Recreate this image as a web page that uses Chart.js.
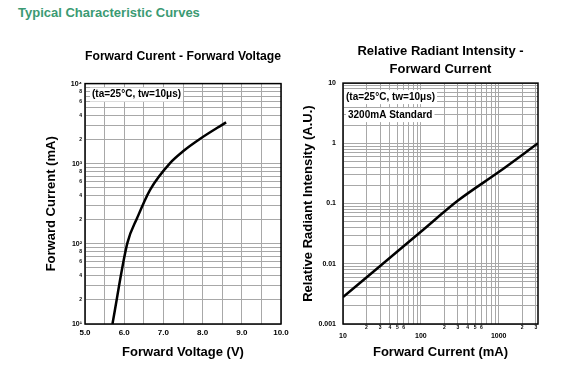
<!DOCTYPE html>
<html>
<head>
<meta charset="utf-8">
<script src="https://cdn.jsdelivr.net/npm/chart.js@4.4.0/dist/chart.umd.min.js"></script>
<style>
body { margin: 0; background: #fff; width: 581px; height: 387px; position: relative; overflow: hidden; font-family: "Liberation Sans", Arial, sans-serif; }
h3 { position: absolute; left: 18px; top: 5px; margin: 0; font-size: 13px; font-weight: bold; color: #3b9a73; }
#vfChart { position: absolute; left: 0; top: 0; }
#irChart { position: absolute; left: 290px; top: 0; }
</style>
</head>
<body>
<h3>Typical Characteristic Curves</h3>
<canvas id="vfChart" width="300" height="387"></canvas>
<canvas id="irChart" width="291" height="387"></canvas>
<script>
// Forward Current - Forward Voltage
const vfVoltage = [5.70, 6.08, 6.33, 6.66, 7.17, 7.51, 7.93, 8.60];
const vfCurrent = [10, 102, 210, 473, 1020, 1442, 2036, 3285];
const vfXTicks = [5.0, 5.5, 6.0, 6.5, 7.0, 7.5, 8.0, 8.5, 9.0, 9.5, 10.0];
const vfYTicks = [10, 20, 30, 40, 50, 60, 70, 80, 90,
                  100, 200, 300, 400, 500, 600, 700, 800, 900,
                  1000, 2000, 3000, 4000, 5000, 6000, 7000, 8000, 9000, 10000];

// Relative Radiant Intensity - Forward Current
const irCurrent = [10, 30, 100, 300, 1000, 3200];
const irIntensity = [0.0028, 0.0092, 0.034, 0.112, 0.333, 1.0];
const irXTicks = [10, 20, 30, 40, 50, 60, 70, 80, 90,
                  100, 200, 300, 400, 500, 600, 700, 800, 900,
                  1000, 2000, 3000];
const irYTicks = [0.001, 0.002, 0.003, 0.004, 0.005, 0.006, 0.007, 0.008, 0.009,
                  0.01, 0.02, 0.03, 0.04, 0.05, 0.06, 0.07, 0.08, 0.09,
                  0.1, 0.2, 0.3, 0.4, 0.5, 0.6, 0.7, 0.8, 0.9,
                  1, 2, 3, 4, 5, 6, 7, 8, 9, 10];

const FONT = '"Liberation Sans", Arial, sans-serif';
const GRID = '#a8a8a8';
const sup = { 1: '\u00b9', 2: '\u00b2', 3: '\u00b3', 4: '\u2074' };

function isDecade(v) {
    const l = Math.log10(v);
    return Math.abs(l - Math.round(l)) < 1e-6;
}
function mantissa(v) {
    return Math.round(v / Math.pow(10, Math.floor(Math.log10(v) + 1e-9)));
}

// black frame round the plot area
const framePlugin = {
    id: 'frame',
    afterDraw(chart) {
        const a = chart.chartArea, ctx = chart.ctx;
        ctx.save();
        ctx.strokeStyle = '#000';
        ctx.lineWidth = 1.5;
        ctx.strokeRect(a.left, a.top, a.right - a.left, a.bottom - a.top);
        ctx.restore();
    }
};

// condition notes in the top-left corner
const notesPlugin = {
    id: 'notes',
    afterDraw(chart, args, opts) {
        const a = chart.chartArea, ctx = chart.ctx;
        ctx.save();
        ctx.font = 'bold 10px ' + FONT;
        ctx.textBaseline = 'middle';
        (opts.items || []).forEach(function(n) {
            const x = a.left + n.dx, y = a.top + n.dy;
            const w = ctx.measureText(n.text).width;
            ctx.fillStyle = '#fff';
            ctx.fillRect(x - 2, y - 7, w + 4, 14);
            ctx.fillStyle = '#000';
            ctx.fillText(n.text, x, y);
        });
        ctx.restore();
    }
};

const vfCanvas = document.getElementById('vfChart');
new Chart(vfCanvas.getContext('2d'), {
    type: 'scatter',
    data: {
        datasets: [{
            data: vfVoltage.map((v, i) => ({ x: v, y: vfCurrent[i] })),
            showLine: true,
            borderColor: '#000',
            borderWidth: 2.5,
            pointRadius: 0,
            cubicInterpolationMode: 'monotone'
        }]
    },
    options: {
        responsive: false,
        animation: false,
        layout: { padding: { left: 40, right: 19, top: 0, bottom: 23 } },
        scales: {
            x: {
                type: 'linear',
                min: 5, max: 10,
                afterBuildTicks: s => { s.ticks = vfXTicks.map(v => ({ value: v })); },
                afterFit: s => { s.height = 40; },
                grid: { color: GRID, drawTicks: false },
                border: { display: false },
                ticks: {
                    autoSkip: false, maxRotation: 0, padding: 4, color: '#000',
                    font: { family: FONT, size: 8, weight: 'bold' },
                    callback: v => Number.isInteger(v) ? v.toFixed(1) : ''
                },
                title: { display: true, text: 'Forward Voltage (V)', color: '#000', font: { family: FONT, size: 13, weight: 'bold' } }
            },
            y: {
                type: 'logarithmic',
                min: 10, max: 10000,
                afterBuildTicks: s => { s.ticks = vfYTicks.map(v => ({ value: v })); },
                afterFit: s => { s.width = 45; },
                grid: { color: GRID, drawTicks: false },
                border: { display: false },
                ticks: {
                    autoSkip: false, padding: 3, color: '#000',
                    font: c => ({ family: FONT, size: isDecade(c.tick.value) ? 7 : 5, weight: 'bold' }),
                    callback: v => {
                        if (isDecade(v)) return '10' + sup[Math.round(Math.log10(v))];
                        return mantissa(v) % 2 === 0 ? String(mantissa(v)) : '';
                    }
                },
                title: { display: true, text: 'Forward Current (mA)', color: '#000', font: { family: FONT, size: 13, weight: 'bold' } }
            }
        },
        plugins: {
            legend: { display: false },
            tooltip: { enabled: false },
            title: {
                display: true, fullSize: false,
                text: 'Forward Curent - Forward Voltage',
                color: '#000',
                font: { family: FONT, size: 13, weight: 'bold' },
                padding: { top: 49, bottom: 19 }
            },
            notes: { items: [{ text: '(ta=25\u00b0C, tw=10\u03bcs)', dx: 7, dy: 11 }] }
        }
    },
    plugins: [framePlugin, notesPlugin]
});

const irCanvas = document.getElementById('irChart');
new Chart(irCanvas.getContext('2d'), {
    type: 'scatter',
    data: {
        datasets: [{
            data: irCurrent.map((v, i) => ({ x: v, y: irIntensity[i] })),
            showLine: true,
            borderColor: '#000',
            borderWidth: 2.5,
            pointRadius: 0,
            cubicInterpolationMode: 'monotone'
        }]
    },
    options: {
        responsive: false,
        animation: false,
        layout: { padding: { left: 7, right: 43, top: 0, bottom: 23 } },
        scales: {
            x: {
                type: 'logarithmic',
                min: 10, max: 3200,
                afterBuildTicks: s => { s.ticks = irXTicks.map(v => ({ value: v })); },
                afterFit: s => { s.height = 40; },
                grid: { color: GRID, drawTicks: false },
                border: { display: false },
                ticks: {
                    autoSkip: false, maxRotation: 0, padding: 1, color: '#000',
                    font: c => isDecade(c.tick.value)
                        ? { family: FONT, size: 7, weight: 'bold', lineHeight: 1.1 }
                        : { family: FONT, size: 5, weight: 'bold' },
                    callback: v => {
                        if (isDecade(v)) return ['', String(v)];
                        return mantissa(v) <= 6 ? String(mantissa(v)) : '';
                    }
                },
                title: { display: true, text: 'Forward Current (mA)', color: '#000', font: { family: FONT, size: 13, weight: 'bold' } }
            },
            y: {
                type: 'logarithmic',
                min: 0.001, max: 10,
                afterBuildTicks: s => { s.ticks = irYTicks.map(v => ({ value: v })); },
                afterFit: s => { s.width = 46; },
                grid: { color: GRID, drawTicks: false },
                border: { display: false },
                ticks: {
                    autoSkip: false, padding: 7, color: '#000',
                    font: { family: FONT, size: 7, weight: 'bold' },
                    callback: v => isDecade(v) ? String(v) : ''
                },
                title: { display: true, text: 'Relative Radiant Intensity (A.U.)', color: '#000', font: { family: FONT, size: 13, weight: 'bold' } }
            }
        },
        plugins: {
            legend: { display: false },
            tooltip: { enabled: false },
            title: {
                display: true, fullSize: false,
                text: ['Relative Radiant Intensity -', 'Forward Current'],
                color: '#000',
                font: { family: FONT, size: 13, weight: 'bold', lineHeight: 1.35 },
                padding: { top: 43, bottom: 5 }
            },
            notes: { items: [
                { text: '(ta=25\u00b0C, tw=10\u03bcs)', dx: 3, dy: 14 },
                { text: '3200mA Standard', dx: 5, dy: 32 }
            ] }
        }
    },
    plugins: [framePlugin, notesPlugin]
});
</script>
</body>
</html>
